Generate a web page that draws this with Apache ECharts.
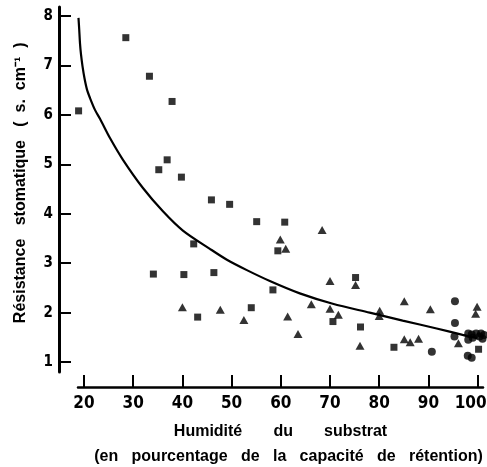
<!DOCTYPE html>
<html>
<head>
<meta charset="utf-8">
<script src="https://cdn.jsdelivr.net/npm/echarts@6/dist/echarts.min.js"></script>
<style>
    html, body { margin: 0; padding: 0; background: #fff; }
    #chart { width: 487px; height: 467px; }
</style>
</head>
<body>
<div id="chart"></div>
<script>
// valeurs
const xTicks = [20, 30, 40, 50, 60, 70, 80, 90, 100];
const yTicks = [1, 2, 3, 4, 5, 6, 7, 8];

const carres = [
    [18.9, 6.08], [28.5, 7.56], [33.3, 6.78], [37.9, 6.27], [36.9, 5.09],
    [35.2, 4.89], [39.8, 4.74], [45.9, 4.28], [49.6, 4.19], [55.1, 3.84],
    [60.8, 3.83], [42.3, 3.39], [34.1, 2.78], [40.3, 2.77], [46.4, 2.81],
    [43.1, 1.91], [54.0, 2.10], [59.4, 3.25], [58.4, 2.46], [75.2, 2.71],
    [70.6, 1.82], [76.2, 1.71], [83.0, 1.30], [100.2, 1.26]
];

const triangles = [
    [40.0, 2.11], [47.7, 2.06], [52.5, 1.85], [68.4, 3.67], [59.9, 3.48],
    [61.0, 3.29], [70.0, 2.64], [75.2, 2.56], [66.2, 2.17], [70.0, 2.08],
    [71.7, 1.96], [61.4, 1.92], [63.5, 1.57], [76.1, 1.33], [80.1, 2.04],
    [80.0, 1.93], [85.1, 2.23], [90.4, 2.07], [99.9, 2.12], [99.6, 1.98],
    [85.1, 1.46], [86.3, 1.40], [88.0, 1.47], [96.1, 1.38]
];

const cercles = [
    [95.4, 2.23], [95.4, 1.79], [95.3, 1.52], [90.7, 1.21], [98.0, 1.13],
    [98.8, 1.09], [98.1, 1.58], [98.8, 1.56], [99.7, 1.58], [100.7, 1.58],
    [101.3, 1.55], [98.1, 1.45], [99.0, 1.49], [100.4, 1.52], [101.0, 1.47]
];

// courbe ajustée, points relevés le long du trait
const courbe = [
    [18.88, 7.96], [19.03, 7.72], [19.19, 7.44], [19.39, 7.22], [19.70, 6.98],
    [20.10, 6.74], [20.61, 6.51], [21.22, 6.34], [22.23, 6.10], [23.25, 5.92],
    [25.28, 5.53], [27.92, 5.09], [31.98, 4.52], [36.04, 4.05], [40.10, 3.66],
    [45.58, 3.29], [49.04, 3.07], [53.10, 2.86], [57.77, 2.64],
    [63.86, 2.39], [70.56, 2.18], [78.07, 2.00], [84.77, 1.84], [91.68, 1.68],
    [96.95, 1.55], [100.0, 1.48]
];

const chart = echarts.init(document.getElementById('chart'));
const font = '"Liberation Sans Narrow", "DejaVu Sans Condensed", "Liberation Sans", sans-serif';
const fontTitre = '"Liberation Sans", Arial, sans-serif';

const option = {
    animation: false,
    backgroundColor: '#ffffff',
    grid: { left: 78, right: 4, top: 7, bottom: 95, outerBoundsMode: 'none' },
    xAxis: {
        type: 'value',
        min: 18.78,
        max: 101.1,
        offset: 15,
        splitLine: { show: false },
        axisLine: { show: true, lineStyle: { color: '#000', width: 2.5 } },
        axisTick: {
            show: true, inside: true, length: 12, customValues: xTicks,
            lineStyle: { color: '#000', width: 2 }
        },
        axisLabel: {
            customValues: xTicks, margin: 8,
            color: '#000', fontFamily: font, fontWeight: 'bold', fontSize: 17,
            formatter: function (v) {
                return v === 100 ? '{fin|100}' : String(v);
            },
            rich: {
                fin: {
                    color: '#000', fontFamily: font, fontWeight: 'bold', fontSize: 17,
                    padding: [0, 14, 0, 0]
                }
            }
        },
        name: '{a|Humidité       du       substrat}\n{b|(en   pourcentage   de   la   capacité   de   rétention)}',
        nameLocation: 'middle',
        nameGap: 32,
        nameTextStyle: {
            color: '#000', fontFamily: fontTitre, fontWeight: 'bold', fontSize: 16,
            rich: {
                a: {
                    color: '#000', fontFamily: fontTitre, fontWeight: 'bold', fontSize: 16,
                    lineHeight: 25
                },
                b: {
                    color: '#000', fontFamily: fontTitre, fontWeight: 'bold', fontSize: 16,
                    lineHeight: 25, padding: [0, 0, 0, 16]
                }
            }
        }
    },
    yAxis: {
        type: 'value',
        min: 0.8,
        max: 8.18,
        offset: 19,
        splitLine: { show: false },
        axisLine: { show: true, lineStyle: { color: '#000', width: 3 } },
        axisTick: {
            show: true, inside: true, length: 12, customValues: yTicks,
            lineStyle: { color: '#000', width: 2 }
        },
        axisLabel: {
            customValues: yTicks, margin: 6,
            color: '#000', fontFamily: font, fontWeight: 'bold', fontSize: 15
        },
        name: '   Résistance   stomatique   (  s.  cm⁻¹  )',
        nameLocation: 'middle',
        nameRotate: 90,
        nameGap: 30,
        nameTextStyle: {
            color: '#000', fontFamily: fontTitre, fontWeight: 'bold', fontSize: 16
        }
    },
    series: [
        {
            type: 'line',
            data: courbe,
            smooth: 0.3,
            showSymbol: false,
            clip: false,
            lineStyle: { color: '#000', width: 2.2 }
        },
        {
            type: 'scatter',
            data: carres,
            symbol: 'rect',
            symbolSize: 7,
            clip: false,
            itemStyle: { color: '#000' }
        },
        {
            type: 'scatter',
            data: triangles,
            symbol: 'triangle',
            symbolSize: [9, 8],
            clip: false,
            itemStyle: { color: '#000' }
        },
        {
            type: 'scatter',
            data: cercles,
            symbol: 'circle',
            symbolSize: 8,
            clip: false,
            itemStyle: { color: '#000' }
        }
    ]
};

chart.setOption(option);

window.addEventListener('resize', function () {
    chart.resize();
});
</script>
</body>
</html>
